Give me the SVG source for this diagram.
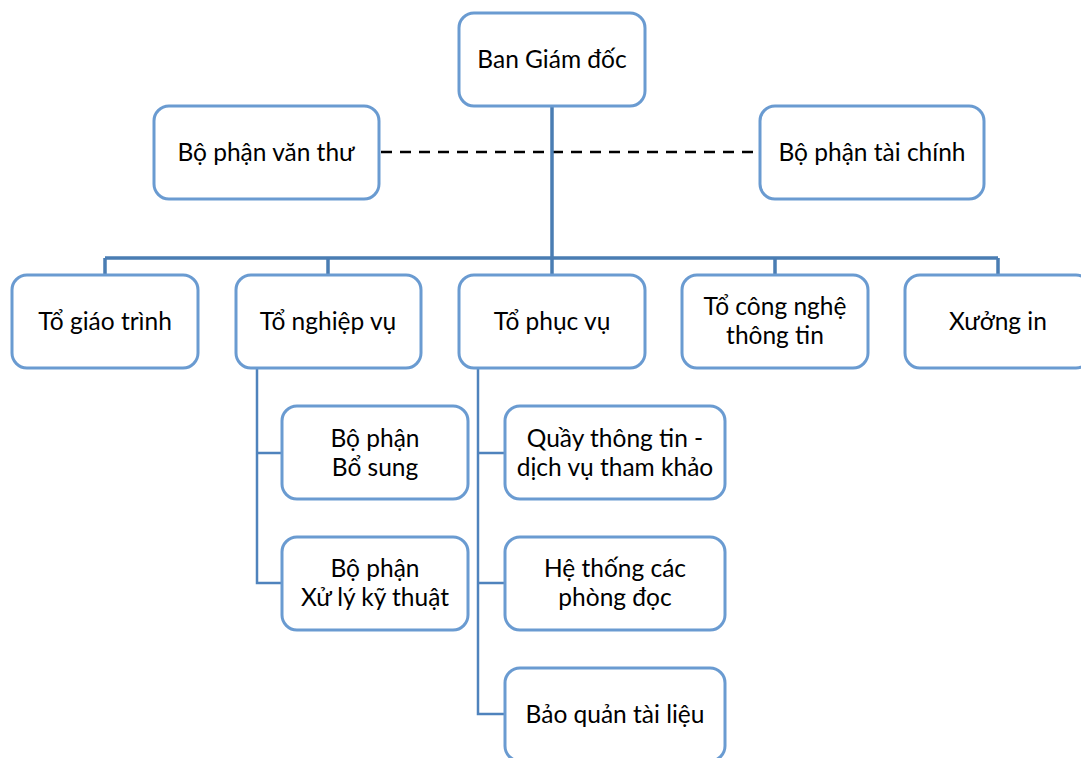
<svg xmlns="http://www.w3.org/2000/svg" width="1081" height="758" viewBox="0 0 1081 758">
<style>
.box{fill:#fff;stroke:#6a9bd1;stroke-width:3}
.t{font-family:Lato,"Noto Sans",sans-serif;font-size:24.5px;fill:#000;text-anchor:middle;dominant-baseline:central}
.main{stroke:#4a7db3;stroke-width:3.5;fill:none}
.sub{stroke:#4f83bd;stroke-width:2.5;fill:none}
.dash{stroke:#000;stroke-width:2.5;stroke-dasharray:11 8;fill:none}
</style>
<rect width="1081" height="758" fill="#fff"/>
<g id="connectors">
<path class="dash" d="M381 152 H759"/>
<path class="main" d="M552 106 V258 M105 258 H998 M105 258 V275 M328 258 V275 M552 258 V275 M775 258 V275 M998 258 V275"/>
<path class="sub" d="M257 368 V583 H282 M257 453 H282"/>
<path class="sub" d="M478 368 V714 H505 M478 453 H505 M478 583 H505"/>
</g>
<g id="n-bgd"><rect class="box" x="459" y="13" width="186" height="93" rx="15"/><text class="t" x="552" y="58">Ban Giám đốc</text></g>
<g id="n-vanthu"><rect class="box" x="154" y="106" width="225" height="93" rx="15"/><text class="t" x="266" y="151">Bộ phận văn thư</text></g>
<g id="n-taichinh"><rect class="box" x="760" y="106" width="224" height="93" rx="15"/><text class="t" x="872" y="151">Bộ phận tài chính</text></g>
<g id="n-giaotrinh"><rect class="box" x="12" y="275" width="186" height="93" rx="15"/><text class="t" x="105" y="320">Tổ giáo trình</text></g>
<g id="n-nghiepvu"><rect class="box" x="236" y="275" width="185" height="93" rx="15"/><text class="t" x="328" y="320">Tổ nghiệp vụ</text></g>
<g id="n-phucvu"><rect class="box" x="459" y="275" width="186" height="93" rx="15"/><text class="t" x="552" y="320">Tổ phục vụ</text></g>
<g id="n-cntt"><rect class="box" x="682" y="275" width="186" height="93" rx="15"/><text class="t" x="775" y="305">Tổ công nghệ</text><text class="t" x="775" y="334">thông tin</text></g>
<g id="n-xuongin"><rect class="box" x="905" y="275" width="186" height="93" rx="15"/><text class="t" x="998" y="320">Xưởng in</text></g>
<g id="n-bosung"><rect class="box" x="282" y="406" width="186" height="93" rx="15"/><text class="t" x="375" y="437">Bộ phận</text><text class="t" x="375" y="466">Bổ sung</text></g>
<g id="n-xuly"><rect class="box" x="282" y="537" width="186" height="93" rx="15"/><text class="t" x="375" y="567">Bộ phận</text><text class="t" x="375" y="596">Xử lý kỹ thuật</text></g>
<g id="n-quay"><rect class="box" x="505" y="406" width="220" height="93" rx="15"/><text class="t" x="615" y="437">Quầy thông tin -</text><text class="t" x="615" y="466">dịch vụ tham khảo</text></g>
<g id="n-phongdoc"><rect class="box" x="505" y="537" width="220" height="93" rx="15"/><text class="t" x="615" y="567">Hệ thống các</text><text class="t" x="615" y="596">phòng đọc</text></g>
<g id="n-baoquan"><rect class="box" x="505" y="668" width="220" height="93" rx="15"/><text class="t" x="615" y="713">Bảo quản tài liệu</text></g>
</svg>
